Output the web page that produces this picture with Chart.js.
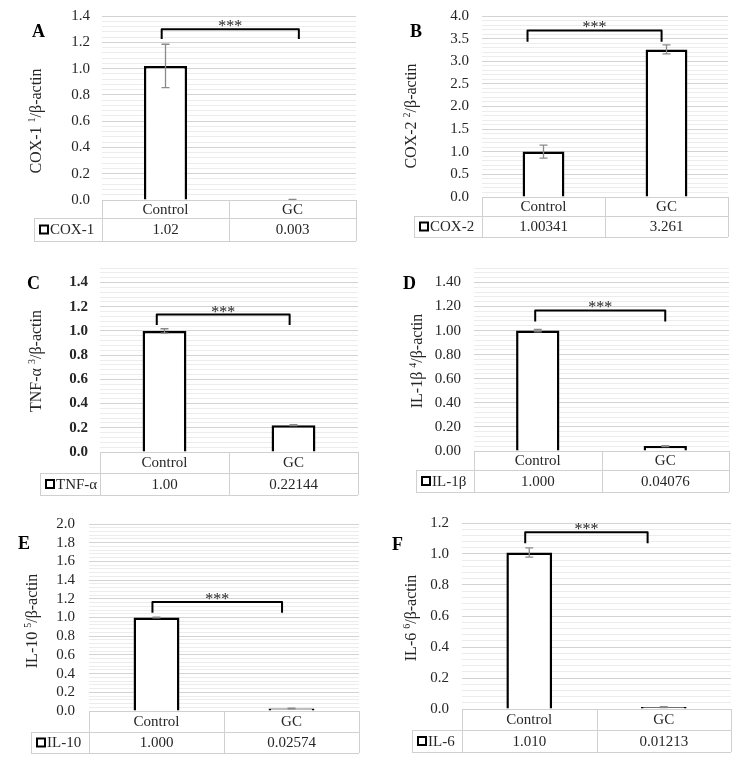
<!DOCTYPE html>
<html>
<head>
<meta charset="utf-8">
<script src="https://cdn.jsdelivr.net/npm/chart.js@4"></script>
<style>
  body { margin: 0; background: #fff; }
  #figure { position: relative; width: 749px; height: 762px; }
  #figure canvas { position: absolute; }
</style>
</head>
<body>
<div id="figure"></div>
<script>
// === Datos ===
const categories = ["Control", "GC"];
const panelLetters = ["A", "B", "C", "D", "E", "F"];
const geneNames = ["COX-1", "COX-2", "TNF-α", "IL-1β", "IL-10", "IL-6"];
const titleNotes = ["1", "2", "3", "4", "5", "6"];

const cox1Means = [1.02, 0.003];
const cox1Errors = [0.165, 0.001];
const cox1Table = ["1.02", "0.003"];

const cox2Means = [1.00341, 3.261];
const cox2Errors = [0.145, 0.1];
const cox2Table = ["1.00341", "3.261"];

const tnfMeans = [1.00, 0.22144];
const tnfErrors = [0.018, 0.004];
const tnfTable = ["1.00", "0.22144"];

const il1bMeans = [1.000, 0.04076];
const il1bErrors = [0.01, 0.004];
const il1bTable = ["1.000", "0.04076"];

const il10Means = [1.000, 0.02574];
const il10Errors = [0.005, 0.004];
const il10Table = ["1.000", "0.02574"];

const il6Means = [1.010, 0.01213];
const il6Errors = [0.03, 0.003];
const il6Table = ["1.010", "0.01213"];

// ejes
const yMaxes = [1.4, 4.0, 1.52, 1.52, 2.0, 1.2];
const majorSteps = [0.2, 0.5, 0.2, 0.2, 0.2, 0.2];
const minorSteps = [0.04, 0.1, 0.04, 0.04, 0.04, 0.04];
const tickDecimals = [1, 1, 1, 2, 1, 1];

// corchetes de significancia (indice de categoria, valor)
const bracketX = [[-0.03, 1.05], [-0.13, 0.96], [-0.06, 0.97], [-0.02, 1.0], [-0.03, 0.93], [-0.03, 0.88]];
const bracketY = [[1.30, 1.225], [3.68, 3.43], [1.135, 1.05], [1.167, 1.075], [1.166, 1.05], [1.14, 1.07]];
const starLabel = "***";

const series = [
  { means: cox1Means, errors: cox1Errors, table: cox1Table },
  { means: cox2Means, errors: cox2Errors, table: cox2Table },
  { means: tnfMeans, errors: tnfErrors, table: tnfTable },
  { means: il1bMeans, errors: il1bErrors, table: il1bTable },
  { means: il10Means, errors: il10Errors, table: il10Table },
  { means: il6Means, errors: il6Errors, table: il6Table }
];

// === Layout de cada panel ===
const boxes = [
  { x: 0,   y: 0,   w: 375, h: 250, left: 102, right: 356, top: 16,  bottom: 200, row1: 218, row2: 241, legendLeft: 34,  tickGap: 12, titleX: 37,  titleY: 121, letterX: 32,  letterY: 37 },
  { x: 375, y: 0,   w: 374, h: 250, left: 482, right: 728, top: 16,  bottom: 197, row1: 216, row2: 237, legendLeft: 414, tickGap: 13, titleX: 412, titleY: 116, letterX: 410, letterY: 37 },
  { x: 0,   y: 250, w: 375, h: 250, left: 100, right: 358, top: 268, bottom: 452, row1: 473, row2: 495, legendLeft: 40,  tickGap: 12, titleX: 37,  titleY: 361, letterX: 27,  letterY: 289, bold: true },
  { x: 375, y: 250, w: 374, h: 250, left: 474, right: 729, top: 268, bottom: 451, row1: 470, row2: 492, legendLeft: 416, tickGap: 13, titleX: 418, titleY: 361, letterX: 403, letterY: 289 },
  { x: 0,   y: 500, w: 375, h: 262, left: 89,  right: 359, top: 524, bottom: 711, row1: 732, row2: 753, legendLeft: 31,  tickGap: 14, titleX: 33,  titleY: 621, letterX: 18,  letterY: 549 },
  { x: 375, y: 500, w: 374, h: 262, left: 462, right: 731, top: 523, bottom: 709, row1: 730, row2: 752, legendLeft: 412, tickGap: 13, titleX: 412, titleY: 618, letterX: 392, letterY: 550 }
];

const serif = "'Liberation Serif', 'Times New Roman', serif";
const texto = "#262626";
const figure = document.getElementById("figure");

function buildPanel(i) {
  const box = boxes[i];
  const s = series[i];
  const canvas = document.createElement("canvas");
  canvas.width = box.w;
  canvas.height = box.h;
  canvas.style.left = box.x + "px";
  canvas.style.top = box.y + "px";
  figure.appendChild(canvas);

  const major = majorSteps[i];
  const minor = minorSteps[i];
  const yMax = yMaxes[i];
  const isMajor = v => Math.abs(v / major - Math.round(v / major)) < 1e-6;

  const decor = {
    id: "decor" + i,
    afterDatasetsDraw(chart) {
      const ctx = chart.ctx;
      const xs = chart.scales.x, ys = chart.scales.y;
      ctx.save();
      // barras de error
      ctx.strokeStyle = "#8a8a8a";
      ctx.lineWidth = 1.3;
      s.means.forEach((m, k) => {
        const e = s.errors[k];
        const x = xs.getPixelForValue(k);
        const y1 = ys.getPixelForValue(m + e);
        const y2 = ys.getPixelForValue(Math.max(0, m - e));
        ctx.beginPath();
        ctx.moveTo(x, y1); ctx.lineTo(x, y2);
        ctx.moveTo(x - 4, y1); ctx.lineTo(x + 4, y1);
        ctx.moveTo(x - 4, y2); ctx.lineTo(x + 4, y2);
        ctx.stroke();
      });
      // corchete + ***
      const x0 = xs.getPixelForValue(bracketX[i][0]);
      const x1 = xs.getPixelForValue(bracketX[i][1]);
      const yTop = ys.getPixelForValue(bracketY[i][0]);
      const yLeg = ys.getPixelForValue(bracketY[i][1]);
      ctx.strokeStyle = "#000";
      ctx.lineWidth = 2;
      ctx.lineJoin = "round";
      ctx.beginPath();
      ctx.moveTo(x0, yLeg); ctx.lineTo(x0, yTop); ctx.lineTo(x1, yTop); ctx.lineTo(x1, yLeg);
      ctx.stroke();
      ctx.fillStyle = texto;
      ctx.font = "16px " + serif;
      ctx.textAlign = "center";
      ctx.textBaseline = "alphabetic";
      ctx.fillText(starLabel, (x0 + x1) / 2, yTop + 2);
      ctx.restore();
    },
    afterDraw(chart) {
      const ctx = chart.ctx;
      const xs = chart.scales.x;
      const ox = box.x, oy = box.y;
      const L = box.left - ox, R = box.right - ox, B = box.bottom - oy;
      const r1 = box.row1 - oy, r2 = box.row2 - oy, LL = box.legendLeft - ox;
      const mid = (L + R) / 2;
      ctx.save();
      // tabla de datos
      ctx.strokeStyle = "#d0d0d0";
      ctx.lineWidth = 1;
      ctx.beginPath();
      ctx.moveTo(L, B + 0.5); ctx.lineTo(R, B + 0.5);
      ctx.moveTo(LL, r1 + 0.5); ctx.lineTo(R, r1 + 0.5);
      ctx.moveTo(LL, r2 + 0.5); ctx.lineTo(R, r2 + 0.5);
      ctx.moveTo(LL + 0.5, r1); ctx.lineTo(LL + 0.5, r2);
      [L, mid, R].forEach(x => {
        ctx.moveTo(Math.round(x) + 0.5, B); ctx.lineTo(Math.round(x) + 0.5, r2);
      });
      ctx.stroke();

      ctx.fillStyle = texto;
      ctx.font = "15px " + serif;
      ctx.textAlign = "center";
      ctx.textBaseline = "middle";
      categories.forEach((c, k) => {
        const x = xs.getPixelForValue(k);
        ctx.fillText(c, x, (B + r1) / 2 + 1);
        ctx.fillText(s.table[k], x, (r1 + r2) / 2 + 1);
      });
      // leyenda
      ctx.strokeStyle = "#000";
      ctx.lineWidth = 2;
      ctx.fillStyle = "#fff";
      const my = (r1 + r2) / 2;
      ctx.fillRect(LL + 6, my - 4, 8, 8);
      ctx.strokeRect(LL + 6, my - 4, 8, 8);
      ctx.fillStyle = texto;
      ctx.textAlign = "left";
      ctx.fillText(geneNames[i], LL + 16, my + 1);

      // letra del panel
      ctx.font = "bold 18px " + serif;
      ctx.fillStyle = "#000";
      ctx.textBaseline = "alphabetic";
      ctx.fillText(panelLetters[i], box.letterX - ox, box.letterY - oy);

      // titulo eje Y
      ctx.translate(box.titleX - ox, box.titleY - oy);
      ctx.rotate(-Math.PI / 2);
      const main = geneNames[i] + " ";
      const rest = "/β-actin";
      ctx.font = "16px " + serif;
      const wMain = ctx.measureText(main).width;
      const wRest = ctx.measureText(rest).width;
      ctx.font = "10px " + serif;
      const wSup = ctx.measureText(titleNotes[i]).width;
      let x = -(wMain + wSup + wRest) / 2;
      ctx.fillStyle = texto;
      ctx.textBaseline = "middle";
      ctx.font = "16px " + serif;
      ctx.fillText(main, x, 0);
      x += wMain;
      ctx.font = "10px " + serif;
      ctx.fillText(titleNotes[i], x, -5);
      x += wSup;
      ctx.font = "16px " + serif;
      ctx.fillText(rest, x, 0);
      ctx.restore();
    }
  };

  new Chart(canvas, {
    type: "bar",
    data: {
      labels: categories,
      datasets: [{
        label: geneNames[i],
        data: s.means,
        backgroundColor: "#fff",
        borderColor: "#000",
        borderWidth: 2.5,
        borderSkipped: "start",
        barPercentage: 0.34,
        categoryPercentage: 1
      }]
    },
    options: {
      responsive: false,
      animation: false,
      layout: {
        padding: {
          left: 0,
          top: box.top - box.y,
          right: box.x + box.w - box.right,
          bottom: box.y + box.h - box.bottom
        }
      },
      plugins: {
        legend: { display: false },
        tooltip: { enabled: false }
      },
      scales: {
        x: { display: false },
        y: {
          min: 0,
          max: yMax,
          afterFit: sc => {
            sc.width = box.left - box.x;
            sc.paddingTop = 0;
            sc.paddingBottom = 0;
          },
          afterBuildTicks: sc => {
            const t = [];
            const n = Math.round(yMax / minor);
            for (let k = 0; k <= n; k++) t.push({ value: +(k * minor).toFixed(4) });
            sc.ticks = t;
          },
          border: { display: false },
          grid: {
            drawTicks: false,
            lineWidth: 1,
            color: c => (c.tick && isMajor(c.tick.value)) ? "#d3d3d3" : "#ececec"
          },
          ticks: {
            autoSkip: false,
            padding: box.tickGap,
            color: texto,
            font: { family: serif, size: 15, weight: box.bold ? "bold" : "normal" },
            callback: v => isMajor(v) ? v.toFixed(tickDecimals[i]) : ""
          }
        }
      }
    },
    plugins: [decor]
  });
}

for (let i = 0; i < 6; i++) buildPanel(i);
</script>
</body>
</html>
